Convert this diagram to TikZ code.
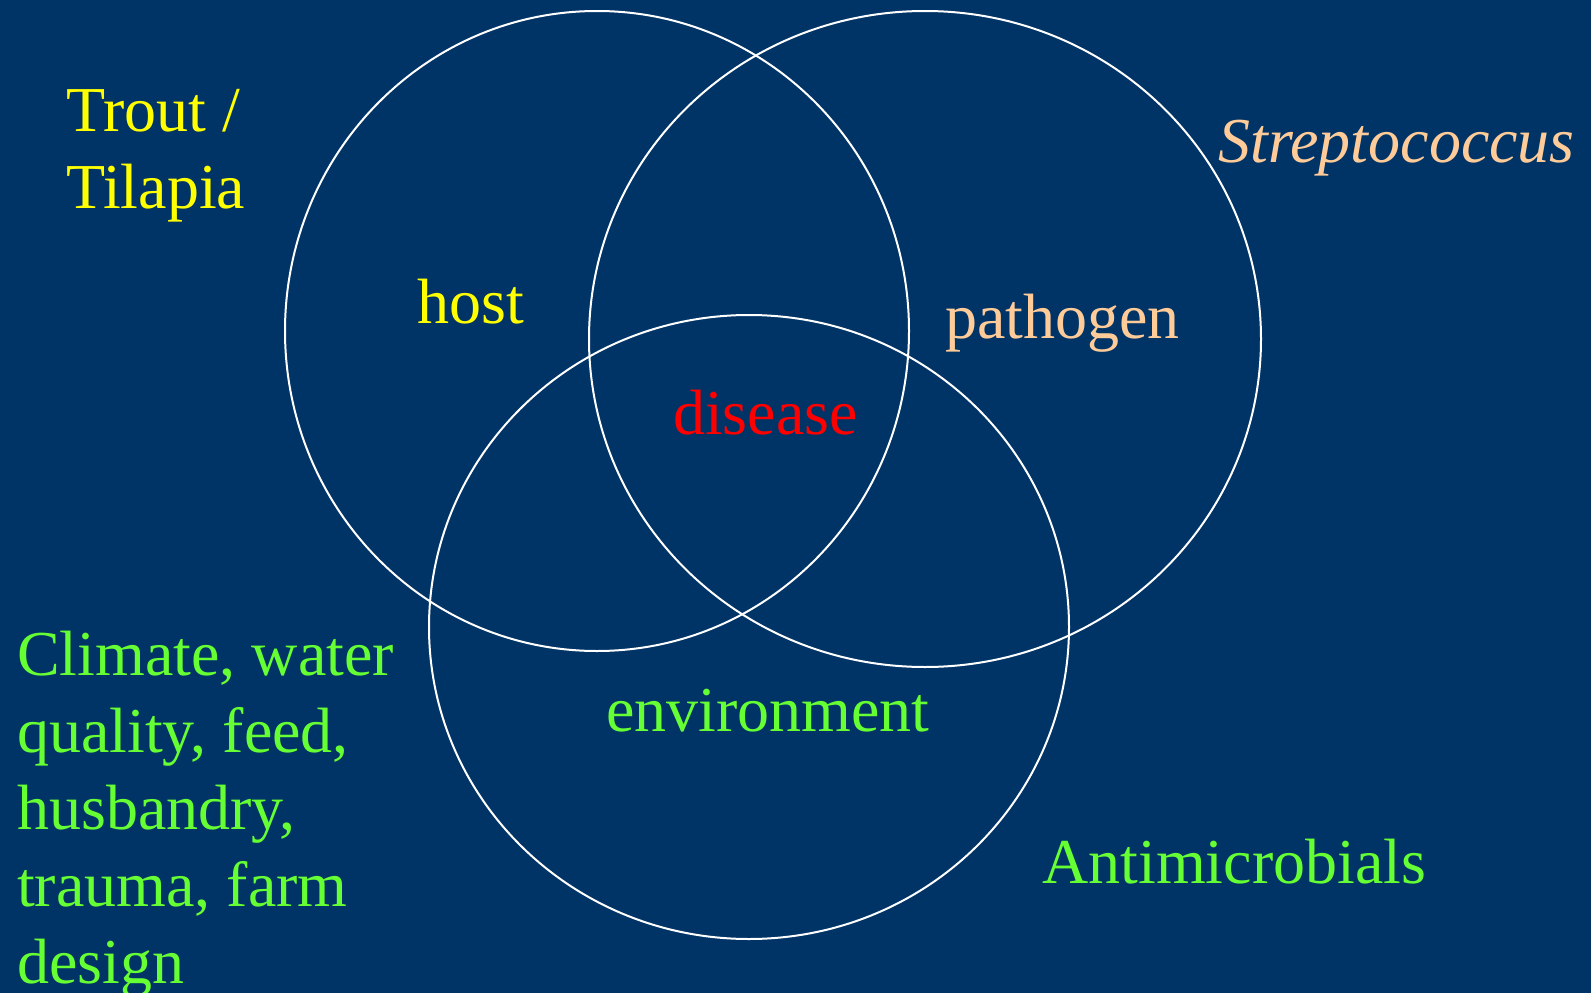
\documentclass[tikz,border=0pt]{standalone}
\usepackage{fontspec}
\setmainfont{Liberation Serif}
\definecolor{bgblue}{RGB}{0,51,102}
\definecolor{hostyellow}{RGB}{255,255,0}
\definecolor{peach}{RGB}{255,204,153}
\definecolor{envgreen}{RGB}{102,255,51}
\definecolor{disred}{RGB}{255,0,0}
\begin{document}
\begin{tikzpicture}[x=1pt,y=-1pt,
  ring/.style={draw=white,line width=2pt},
  lbl/.style={inner sep=0pt,anchor=base west,align=left,font=\fontsize{64}{77}\selectfont}]
\fill[bgblue] (0,0) rectangle (1591,993);
\useasboundingbox (0,0) rectangle (1591,993);
\draw[ring] (597,331) ellipse [x radius=312, y radius=320];
\draw[ring] (925,339) ellipse [x radius=336, y radius=328];
\draw[ring] (749,627) ellipse [x radius=320, y radius=312];
\node[lbl,text=hostyellow] (fish) at (66,208) {Trout /\\Tilapia};
\node[lbl,text=peach] (strep) at (1218,162) {\itshape Streptococcus};
\node[lbl,text=hostyellow] (host) at (417,323) {host};
\node[lbl,text=disred] (disease) at (673,434) {disease};
\node[lbl,text=peach] (pathogen) at (945,338) {pathogen};
\node[lbl,text=envgreen] (env) at (606,731) {environment};
\node[lbl,text=envgreen] (anti) at (1042,883) {Antimicrobials};
\node[lbl,text=envgreen] (climate) at (17,983) {Climate, water\\quality, feed,\\husbandry,\\trauma, farm\\design};
\end{tikzpicture}
\end{document}
